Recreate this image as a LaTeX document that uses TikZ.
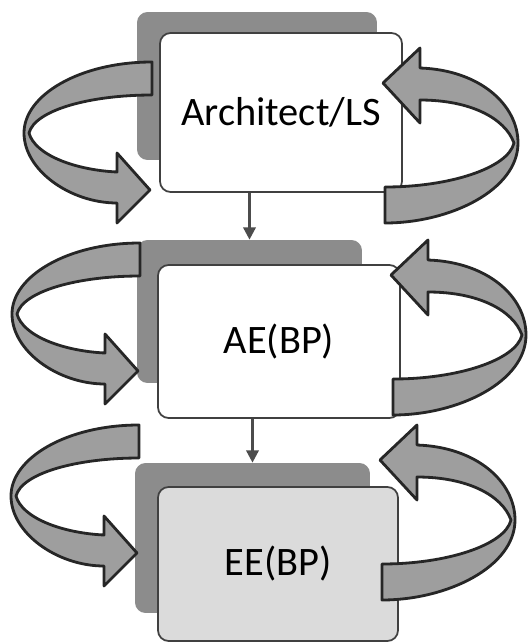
\documentclass[tikz,border=0pt]{standalone}
\usepackage{fontspec}
\setmainfont{Carlito}
\usetikzlibrary{arrows.meta}
\definecolor{boxgray}{gray}{0.55}
\definecolor{ringgray}{gray}{0.62}
\definecolor{palegray}{gray}{0.86}
\tikzset{
  backbox/.style={fill=boxgray, rounded corners=6pt, inner sep=0pt},
  frontbox/.style={fill=white, draw=black!75, line width=1pt, rounded corners=6pt, inner sep=0pt, font=\fontsize{23}{27}\selectfont},
  ringarrow/.style={fill=ringgray, draw=black!85, line width=1.6pt, line join=round},
  flow/.style={draw=black!70, line width=1.5pt, -{Triangle[length=7pt,width=7pt]}}
}

\begin{document}
\begin{tikzpicture}[x=0.02cm, y=-0.02cm]
            \useasboundingbox (0,0) rectangle (529,643);
            % back boxes
            \node[backbox, minimum width=4.8cm, minimum height=2.96cm] (archback) at (257,86) {};
            \node[backbox, minimum width=4.5cm, minimum height=2.86cm] (aeback) at (249.5,311.5) {};
            \node[backbox, minimum width=4.7cm, minimum height=3.0cm] (eeback) at (252.5,538) {};
            % front boxes
            \node[frontbox, minimum width=4.84cm, minimum height=3.18cm] (arch) at (281,112.5) {Architect/LS};
            \node[frontbox, minimum width=4.84cm, minimum height=3.06cm] (ae) at (279,341.5) {AE(BP)};
            \node[frontbox, fill=palegray, minimum width=4.8cm, minimum height=3.08cm] (ee) at (278,564) {EE(BP)};
            % down arrows
            \draw[flow] (arch.south -| aeback) -- (aeback.north);
            \draw[flow] (ae.south -| eeback) -- (eeback.north);
            % left ring arrows
            \foreach \dx/\dy in {0/0, -12/181, -13/363} {
                \draw[ringarrow, shift={(\dx,\dy)}] (152,62) .. controls (80,62) and (24,95) .. (24,133)
                    .. controls (24,170) and (70,203) .. (117,203) -- (117,223) -- (150,190) -- (117,153) -- (117,172)
                    .. controls (75,170) and (35,155) .. (29,133) .. controls (35,110) and (90,95) .. (152,95) -- cycle;
            }
            % right ring arrows
            \foreach \dx/\dy in {0/0, 8/192, -3/377} {
                \draw[ringarrow, shift={(\dx,\dy)}] (420,68) .. controls (480,70) and (518,105) .. (518,143)
                    .. controls (518,190) and (450,223) .. (385,223) -- (385,187)
                    .. controls (450,187) and (508,168) .. (514,143) .. controls (505,118) and (470,100) .. (420,100)
                    -- (420,123) -- (383,83) -- (420,48) -- cycle;
            }
\end{tikzpicture}
\end{document}
